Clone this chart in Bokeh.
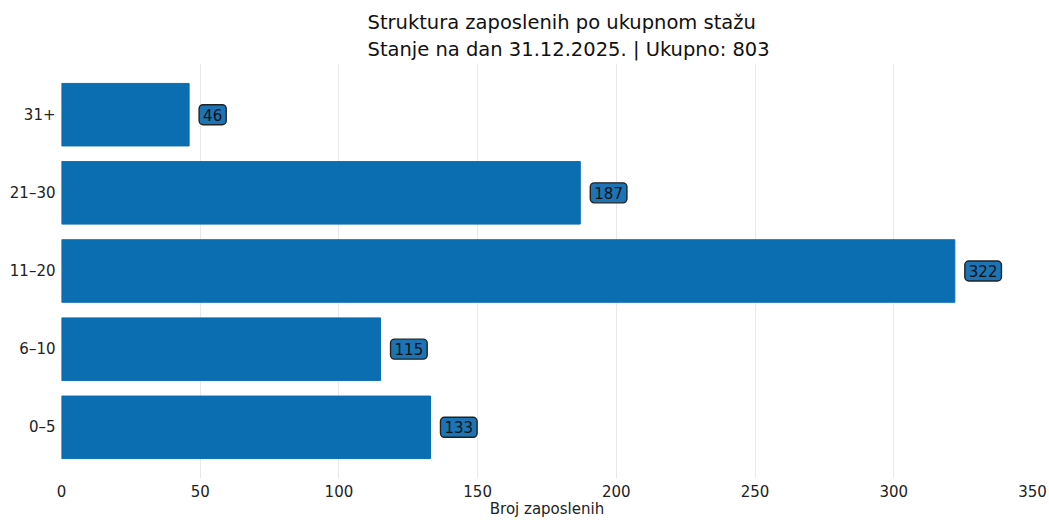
from bokeh.plotting import figure
from bokeh.models import FactorRange, Range1d, SingleIntervalTicker, Label, Title
from bokeh.embed import file_html
from bokeh.resources import INLINE

categories = ["0–5", "6–10", "11–20", "21–30", "31+"]
counts = [133, 115, 322, 187, 46]
title_line1 = "Struktura zaposlenih po ukupnom stažu"
title_line2 = "Stanje na dan 31.12.2025. | Ukupno: 803"
x_label = "Broj zaposlenih"

BAR = "#0a6eb0"
FONT = "DejaVu Sans"

p = figure(
    width=1049, height=520,
    y_range=FactorRange(*categories, range_padding=0.155, range_padding_units="absolute"),
    x_range=Range1d(0, 350),
    output_backend="svg", toolbar_location=None,
    min_border_left=61, min_border_right=17, min_border_top=63, min_border_bottom=0,
)
p.title = Title(text=title_line1 + "\n" + title_line2, align="left", offset=306,
                text_font=FONT, text_font_size="19.5px", text_font_style="normal",
                text_color="#111111", text_line_height=1.2, standoff=4)

p.hbar(y=categories, right=counts, left=0, height=0.8, fill_color=BAR, line_color=BAR, line_width=1)

for i, v in enumerate(counts):
    p.add_layout(Label(x=v, y=i + 0.5, text=str(v), x_offset=10, y_offset=0,
                       text_baseline="middle", text_align="left",
                       text_font=FONT, text_font_size="15px", text_color="#111111",
                       background_fill_color="#1c74b4", background_fill_alpha=1.0,
                       border_line_color="#222222", border_line_width=1.4,
                       padding=4, border_radius=4))

p.xaxis.ticker = SingleIntervalTicker(interval=50)
p.xaxis.axis_label = x_label
for ax in (p.xaxis, p.yaxis):
    ax.axis_line_color = None
    ax.major_tick_line_color = None
    ax.minor_tick_line_color = None
    ax.major_tick_out = 0
    ax.major_tick_in = 0
    ax.minor_tick_out = 0
    ax.major_label_text_font = FONT
    ax.major_label_text_font_size = "15px"
    ax.major_label_text_color = "#222222"
    ax.axis_label_text_font = FONT
    ax.axis_label_text_font_size = "15px"
    ax.axis_label_text_font_style = "normal"
    ax.axis_label_text_color = "#222222"
p.xaxis.major_label_standoff = 6
p.xaxis.axis_label_standoff = 0
p.yaxis.major_label_standoff = 6

p.ygrid.grid_line_color = None
p.xgrid.grid_line_color = "#e8e8ee"
p.xgrid.grid_line_width = 1
p.outline_line_color = None
p.background_fill_color = "white"
p.border_fill_color = "white"

open("out.html", "w").write(file_html(p, INLINE))
